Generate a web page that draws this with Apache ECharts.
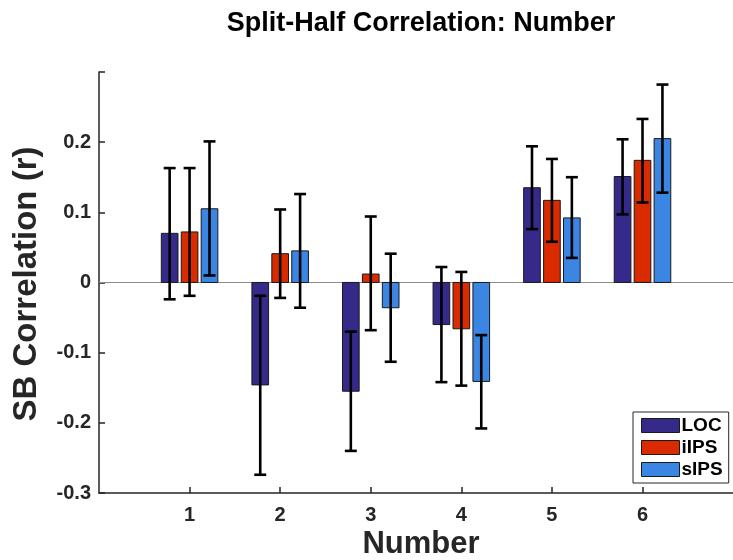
<!DOCTYPE html>
<html>
<head>
<meta charset="utf-8">
<script src="https://cdn.jsdelivr.net/npm/echarts@6/dist/echarts.min.js"></script>
<style>
html,body{margin:0;padding:0;background:#fff;}
#chart{width:733px;height:560px;}
</style>
</head>
<body>
<div id="chart"></div>
<script>
// ---- data ----
const categories = [1, 2, 3, 4, 5, 6];
const seriesNames = ['LOC', 'iIPS', 'sIPS'];
const locMean  = [0.070, -0.146, -0.155, -0.060, 0.135, 0.151];
const locLow   = [-0.024, -0.274, -0.240, -0.142, 0.076, 0.097];
const locHigh  = [0.163, -0.019, -0.070, 0.022, 0.194, 0.204];
const iipsMean = [0.072, 0.041, 0.012, -0.066, 0.117, 0.174];
const iipsLow  = [-0.019, -0.022, -0.068, -0.147, 0.058, 0.114];
const iipsHigh = [0.163, 0.104, 0.094, 0.015, 0.176, 0.233];
const sipsMean = [0.105, 0.045, -0.036, -0.141, 0.092, 0.205];
const sipsLow  = [0.010, -0.036, -0.113, -0.208, 0.035, 0.128];
const sipsHigh = [0.201, 0.126, 0.041, -0.075, 0.150, 0.282];
const yTicks = [-0.3, -0.2, -0.1, 0, 0.1, 0.2];

const colors = ['#35298a', '#d92a00', '#3b85e3'];
const FONT = '"Liberation Sans", Arial, Helvetica, sans-serif';

function buildData(mean, low, high) {
  return categories.map((c, i) => [c, mean[i], low[i], high[i]]);
}
const allData = [
  buildData(locMean, locLow, locHigh),
  buildData(iipsMean, iipsLow, iipsHigh),
  buildData(sipsMean, sipsLow, sipsHigh)
];

function makeRender(sIdx) {
  return function (params, api) {
    const x = api.value(0), v = api.value(1), lo = api.value(2), hi = api.value(3);
    const off = (sIdx - 1) * 0.22;
    const half = 0.092;
    const capHalf = 0.066;
    const p0 = api.coord([x + off - half, 0]);
    const p1 = api.coord([x + off + half, v]);
    const cx = api.coord([x + off, 0])[0];
    const c0 = api.coord([x + off - capHalf, 0])[0];
    const c1 = api.coord([x + off + capHalf, 0])[0];
    const yl = api.coord([x, lo])[1];
    const yh = api.coord([x, hi])[1];
    const errStyle = { stroke: '#000', lineWidth: 2.6 };
    return {
      type: 'group',
      children: [
        { type: 'rect',
          shape: { x: p0[0], y: Math.min(p0[1], p1[1]), width: p1[0] - p0[0], height: Math.abs(p1[1] - p0[1]) },
          style: { fill: colors[sIdx], stroke: '#1a1a1a', lineWidth: 1 } },
        { type: 'line', shape: { x1: cx, y1: yl, x2: cx, y2: yh }, style: errStyle },
        { type: 'line', shape: { x1: c0, y1: yl, x2: c1, y2: yl }, style: errStyle },
        { type: 'line', shape: { x1: c0, y1: yh, x2: c1, y2: yh }, style: errStyle }
      ]
    };
  };
}

const series = seriesNames.map((name, i) => ({
  name: name,
  type: 'custom',
  renderItem: makeRender(i),
  itemStyle: { color: colors[i] },
  encode: { x: 0, y: [1, 2, 3] },
  data: allData[i],
  z: 3
}));
series[0].markLine = {
  silent: true, symbol: 'none', label: { show: false },
  lineStyle: { color: '#8c8c8c', width: 1, type: 'solid' },
  data: [{ yAxis: 0 }], z: 1
};

const chart = echarts.init(document.getElementById('chart'), null, { renderer: 'canvas' });
chart.setOption({
  backgroundColor: '#fff',
  animation: false,
  grid: { left: 99, top: 72, width: 645, height: 421, containLabel: false },
  xAxis: {
    type: 'value', min: 0, max: 6.999, interval: 1,
    axisLine: { show: true, onZero: false, lineStyle: { color: '#262626', width: 1.5 } },
    axisTick: { show: true, inside: true, length: 6, lineStyle: { color: '#262626', width: 1.5 } },
    splitLine: { show: false },
    axisLabel: {
      margin: 12, color: '#262626', fontFamily: FONT, fontWeight: 'bold', fontSize: 20,
      showMinLabel: false, showMaxLabel: false,
      formatter: v => (categories.indexOf(v) >= 0 ? String(v) : '')
    }
  },
  yAxis: {
    type: 'value', min: -0.3, max: 0.2999, interval: 0.1,
    axisLine: { show: true, onZero: false, lineStyle: { color: '#262626', width: 1.5 } },
    axisTick: { show: true, inside: true, length: 6, lineStyle: { color: '#262626', width: 1.5 } },
    splitLine: { show: false },
    axisLabel: {
      margin: 8, color: '#262626', fontFamily: FONT, fontWeight: 'bold', fontSize: 20,
      formatter: function (v) {
        const r = Math.round(v * 10) / 10;
        if (Math.abs(v - r) > 1e-6) return '';
        for (const t of yTicks) { if (Math.abs(t - r) < 1e-9) return String(t); }
        return '';
      }
    }
  },
  legend: {
    orient: 'vertical', left: 633, top: 412,
    data: seriesNames,
    icon: 'rect', itemWidth: 38, itemHeight: 14, itemGap: 3,
    padding: [4, 6, 4, 8],
    backgroundColor: '#fff', borderColor: '#262626', borderWidth: 1,
    itemStyle: { borderColor: '#1a1a1a', borderWidth: 1 },
    textStyle: { fontFamily: FONT, fontWeight: 'bold', fontSize: 19, color: '#000', padding: [0, 0, 0, -3] },
    selectedMode: false
  },
  graphic: [
    { type: 'text', x: 421, y: 24,
      style: { text: 'Split-Half Correlation: Number', x: 0, y: 0, textAlign: 'center', textVerticalAlign: 'middle',
               font: 'bold 27px ' + FONT, fill: '#000' } },
    { type: 'text', x: 421, y: 544,
      style: { text: 'Number', x: 0, y: 0, textAlign: 'center', textVerticalAlign: 'middle',
               font: 'bold 31px ' + FONT, fill: '#262626' } },
    { type: 'text', x: 27, y: 284, rotation: Math.PI / 2,
      style: { text: 'SB Correlation (r)', x: 0, y: 0, textAlign: 'center', textVerticalAlign: 'middle',
               font: 'bold 33px ' + FONT, fill: '#262626' } }
  ],
  series: series
});
</script>
</body>
</html>
